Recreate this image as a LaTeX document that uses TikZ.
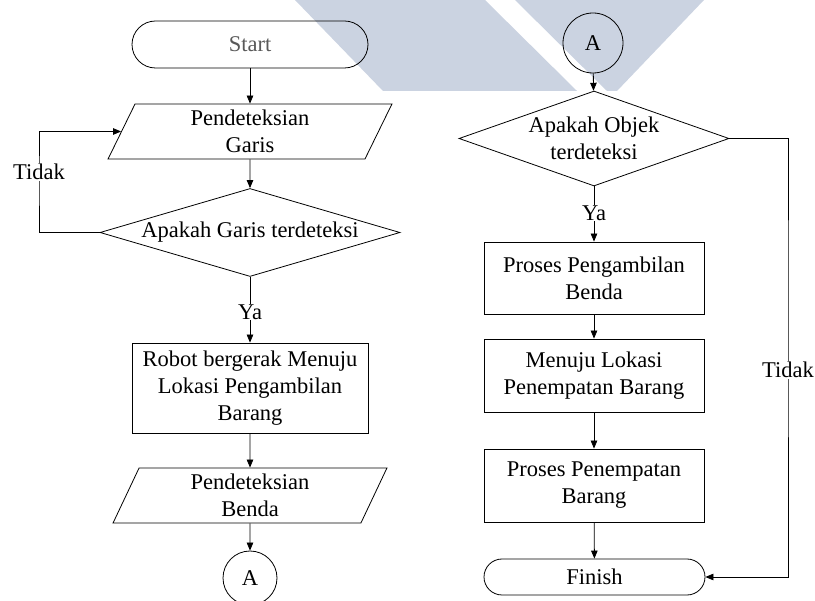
\documentclass[tikz,border=0pt]{standalone}
\usepackage{fontspec}
\setmainfont{Liberation Serif}
\usetikzlibrary{shapes.geometric,arrows.meta}
\definecolor{wm}{RGB}{203,211,225}
\begin{document}
\begin{tikzpicture}[x=1pt,y=-1pt,
  font=\fontsize{22.5}{27}\selectfont,
  line width=0.8pt,
  arr/.style={-{Triangle[length=8pt,width=6.5pt]}},
  term/.style={draw,rectangle,inner sep=0pt,align=center},
  procbox/.style={draw,rectangle,inner sep=0pt,align=center},
  iobox/.style={draw,trapezium,trapezium left angle=72,trapezium right angle=108,
    trapezium stretches=true,inner sep=0pt,align=center,minimum height=55pt},
  decis/.style={draw,diamond,inner sep=0pt,align=center},
  conn/.style={draw,ellipse,inner sep=0pt},
  lbl/.style={fill=white,inner sep=1pt}]
\useasboundingbox (0,0) rectangle (815,601);
% watermark
\fill[wm] (295,0) -- (485,0) -- (577,91) -- (383,91) -- cycle;
\fill[wm] (515,0) -- (704,0) -- (617,91) -- (607,91) -- cycle;
% left column
\node[term,minimum width=236pt,minimum height=47pt,rounded corners=23.5pt,text=black!65] (start) at (250,44.5) {Start};
\node[iobox,minimum width=284pt] (p1) at (250,131.5) {Pendeteksian\\Garis};
\node[decis,shape aspect=3.41,minimum width=300pt,minimum height=88pt] (d1) at (250,232.5) {Apakah Garis terdeteksi};
\node[procbox,minimum width=236pt,minimum height=90pt] (b1) at (250,388) {Robot bergerak Menuju\\Lokasi Pengambilan\\Barang};
\node[iobox,minimum width=274pt] (p2) at (250,495.5) {Pendeteksian\\Benda};
\node[conn,minimum width=54pt,minimum height=54pt] (a1) at (250,578) {A};
% right column
\node[conn,minimum width=60pt,minimum height=60pt] (a2) at (593,43) {A};
\node[decis,shape aspect=2.84,minimum width=270pt,minimum height=95pt] (d2) at (594,138.5) {Apakah Objek\\terdeteksi};
\node[procbox,minimum width=220pt,minimum height=72pt] (b2) at (594,278) {Proses Pengambilan\\Benda};
\node[procbox,minimum width=220pt,minimum height=73pt] (b3) at (594,375.5) {Menuju Lokasi\\Penempatan Barang};
\node[procbox,minimum width=220pt,minimum height=73pt] (b4) at (594,485.5) {Proses Penempatan\\Barang};
\node[term,minimum width=221pt,minimum height=36pt,rounded corners=18pt] (fin) at (594.5,577) {Finish};
% connectors left
\draw[arr] (start) -- (p1);
\draw[arr] (p1) -- (d1);
\coordinate (lx) at (39,180);
\draw[arr] (d1.west) -| (lx) |- (p1.west);
\node[lbl] (t1) at (39,172) {Tidak};
\draw[arr] (d1) -- (b1);
\node[lbl] (y1) at (250,312) {Ya};
\draw[arr] (b1) -- (p2);
\draw[arr] (p2) -- (a1);
% connectors right
\draw[arr] (a2) -- (d2);
\draw[arr] (d2) -- (b2);
\node[lbl] (y2) at (594,213) {Ya};
\draw[arr] (b2) -- (b3);
\draw[arr] (b3) -- (b4);
\draw[arr] (b4) -- (fin);
\coordinate (rx) at (788,300);
\draw[arr] (d2.east) -| (rx) |- (fin.east);
\node[lbl] (t2) at (788,370) {Tidak};
\end{tikzpicture}
\end{document}
